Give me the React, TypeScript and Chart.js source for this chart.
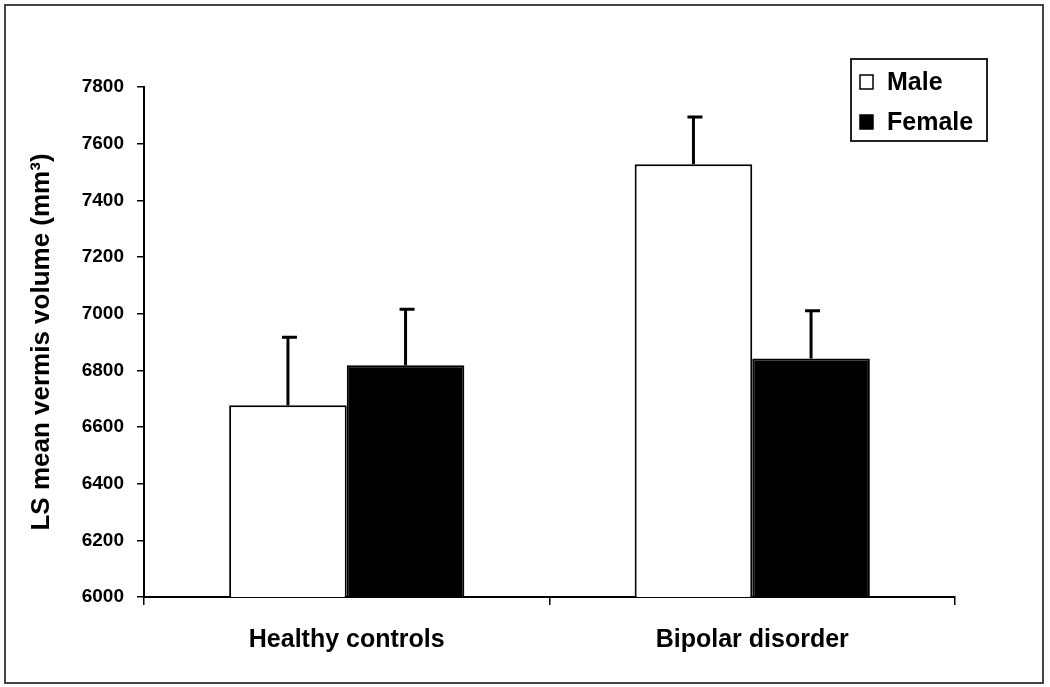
import React, { useEffect, useRef } from "react";
import { Chart, registerables } from "chart.js";

Chart.register(...registerables);

const categories = ["Healthy controls", "Bipolar disorder"];
const seriesNames = ["Male", "Female"];
const maleValues = [6677, 7527];
const femaleValues = [6818, 6842];
const maleErrors = [240, 167];
const femaleErrors = [198, 168];
const yTicks = [6000, 6200, 6400, 6600, 6800, 7000, 7200, 7400, 7600, 7800];

const FONT = "'Liberation Sans', Arial, sans-serif";

const errorBarPlugin = {
  id: "errorBars",
  afterDatasetsDraw(chart: any) {
    const ctx = chart.ctx;
    const y = chart.scales.y;
    const errs = [maleErrors, femaleErrors];
    chart.data.datasets.forEach((ds: any, di: number) => {
      const meta = chart.getDatasetMeta(di);
      meta.data.forEach((bar: any, i: number) => {
        const v = ds.data[i];
        const top = y.getPixelForValue(v + errs[di][i]);
        const x = bar.x;
        ctx.save();
        ctx.strokeStyle = "#000";
        ctx.lineWidth = 3;
        ctx.beginPath();
        ctx.moveTo(x, bar.y);
        ctx.lineTo(x, top);
        ctx.moveTo(x - 6, top);
        ctx.lineTo(x + 9, top);
        ctx.stroke();
        ctx.restore();
      });
    });
  },
};

const legendPlugin = {
  id: "boxLegend",
  afterDraw(chart: any) {
    const ctx = chart.ctx;
    const x0 = 851;
    const y0 = 59;
    const w = 136;
    const h = 82;
    ctx.save();
    ctx.strokeStyle = "#222";
    ctx.lineWidth = 2;
    ctx.strokeRect(x0, y0, w, h);
    const fills = ["#ffffff", "#000000"];
    seriesNames.forEach((name, i) => {
      const cy = y0 + 23 + i * 40;
      ctx.fillStyle = fills[i];
      ctx.fillRect(x0 + 9, cy - 7, 13, 14);
      ctx.strokeStyle = "#000";
      ctx.lineWidth = 1.5;
      ctx.strokeRect(x0 + 9, cy - 7, 13, 14);
      ctx.fillStyle = "#000";
      ctx.font = `bold 25px ${FONT}`;
      ctx.textBaseline = "middle";
      ctx.textAlign = "left";
      ctx.fillText(name, x0 + 36, cy + 1);
    });
    ctx.restore();
  },
};

export default function App() {
  const ref = useRef<HTMLCanvasElement | null>(null);
  useEffect(() => {
    if (!ref.current) return;
    const chart = new Chart(ref.current, {
      type: "bar",
      data: {
        labels: categories,
        datasets: [
          {
            label: seriesNames[0],
            data: maleValues,
            backgroundColor: "#ffffff",
            borderColor: "#000000",
            borderWidth: 2,
            borderSkipped: "bottom",
          },
          {
            label: seriesNames[1],
            data: femaleValues,
            backgroundColor: "#000000",
            borderColor: "#000000",
            borderWidth: 2,
            borderSkipped: "bottom",
          },
        ],
      },
      options: {
        animation: false,
        responsive: false,
        devicePixelRatio: 1,
        layout: { padding: { left: 0, top: 87, right: 95, bottom: 0 } },
        plugins: {
          legend: { display: false },
          tooltip: { enabled: false },
        },
        datasets: {
          bar: { categoryPercentage: 0.58, barPercentage: 1.0 },
        },
        scales: {
          x: {
            offset: true,
            grid: {
              offset: true,
              drawOnChartArea: false,
              drawTicks: true,
              tickLength: 8,
              color: "#000",
              lineWidth: 1.5,
            },
            border: { display: true, color: "#000", width: 2 },
            ticks: {
              color: "#000",
              padding: 20,
              font: { family: FONT, size: 25, weight: "bold" },
            },
            afterFit(scale: any) {
              scale.height = 90;
            },
          },
          y: {
            min: 6000,
            max: 7800,
            afterBuildTicks(scale: any) {
              scale.ticks = yTicks.map((v) => ({ value: v }));
            },
            grid: {
              drawOnChartArea: false,
              drawTicks: true,
              tickLength: 7,
              color: "#000",
              lineWidth: 1.5,
            },
            border: { display: true, color: "#000", width: 2 },
            ticks: {
              color: "#000",
              padding: 13,
              font: { family: FONT, size: 19, weight: "bold" },
              callback: (v: any) => String(v),
            },
            title: {
              display: true,
              text: "LS mean vermis volume (mm³)",
              color: "#000",
              font: { family: FONT, size: 26, weight: "bold" },
              padding: { top: 26, bottom: 0 },
            },
            afterFit(scale: any) {
              scale.width = 144;
            },
          },
        },
      },
      plugins: [errorBarPlugin, legendPlugin],
    });
    return () => chart.destroy();
  }, []);

  return (
    <div style={{ position: "absolute", left: 0, top: 0, width: 1050, height: 687, background: "#fff" }}>
      <canvas ref={ref} width={1050} height={687} style={{ position: "absolute", left: 0, top: 0 }} />
      <div
        style={{
          position: "absolute",
          left: 4,
          top: 4,
          width: 1036,
          height: 676,
          border: "2px solid #444",
          pointerEvents: "none",
        }}
      />
    </div>
  );
}
